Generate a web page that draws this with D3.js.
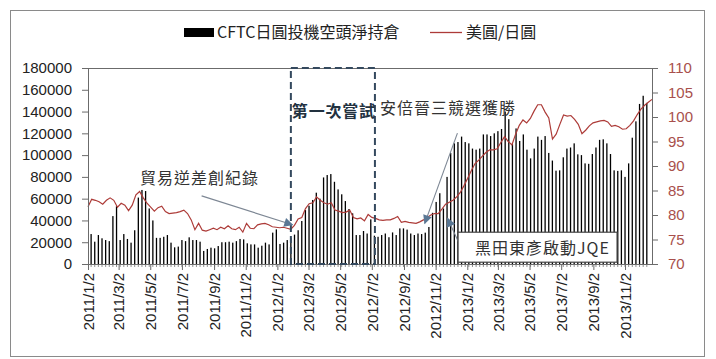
<!DOCTYPE html>
<html><head><meta charset="utf-8">
<script src="https://cdn.jsdelivr.net/npm/d3@7/dist/d3.min.js"></script>
<style>body{margin:0;background:#fff} svg{display:block}</style>
</head><body><svg id="c" width="716" height="359"></svg>
<script>
// ---------- data ----------
const firstWeek = "2011/1/8";
const lastWeek = "2013/12/15";
const axisStart = "2011/1/2";
const axisEnd = "2013/12/24";
const tickLabels = ["2011/1/2","2011/3/2","2011/5/2","2011/7/2","2011/9/2","2011/11/2",
  "2012/1/2","2012/3/2","2012/5/2","2012/7/2","2012/9/2","2012/11/2",
  "2013/1/2","2013/3/2","2013/5/2","2013/7/2","2013/9/2","2013/11/2"];
const leftTicks = [0,20000,40000,60000,80000,100000,120000,140000,160000,180000];
const rightTicks = [70,75,80,85,90,95,100,105,110];
const cftcNetShort = [
 27500,20500,26600,23600,22000,21000,44000,53000,22000,27500,
 23000,19600,31000,61000,68000,67000,51000,40000,24000,24000,
 25000,26600,19600,15300,16000,22000,21000,24500,22000,22000,
 20500,12000,13800,15000,14400,16500,20000,20000,20500,19600,
 21000,23000,22600,19000,18000,18000,15000,16800,19600,18000,
 28800,31800,18400,19600,22000,24000,27000,31000,39500,49600,
 53500,58800,65500,60000,79500,81700,82600,75500,68500,64000,
 57800,50500,46500,26600,26600,30300,28000,41000,26000,25000,
 26600,28000,24600,29000,26600,32700,32700,31600,28000,26600,
 28000,27500,28800,34000,47000,57000,65000,51000,80000,102000,
 110800,112000,117000,112000,110800,106000,105000,106000,119000,119000,
 117500,120000,122000,124000,140000,133000,110000,124500,113000,119000,
 105000,97000,106000,117000,114000,117500,102000,95000,85700,86000,
 98000,106000,107000,110800,100700,100000,92400,92000,101000,107000,
 114000,114500,110800,101000,86000,85500,86000,80000,92400,116000,
 131000,147000,154500,148000];
const usdJpy = [
 81.7,83.2,83.0,82.7,82.2,83.0,83.5,83.0,81.6,82.4,
 82.0,80.9,82.0,84.1,84.8,83.5,82.4,81.6,80.8,81.5,
 81.8,80.7,80.3,80.4,80.5,80.7,81.0,80.3,79.0,77.0,
 78.3,76.9,76.7,77.0,77.3,77.0,77.5,77.2,77.8,77.2,
 77.0,77.5,76.5,78.3,77.3,77.2,78.0,78.2,78.3,78.0,
 77.6,77.5,77.4,77.5,77.3,77.1,77.9,79.2,79.5,81.3,
 82.3,82.5,83.7,83.0,82.5,82.2,82.5,81.0,80.8,80.5,
 80.6,81.0,79.5,79.2,79.4,78.8,80.1,79.5,79.3,79.0,
 78.9,79.0,79.0,79.3,79.7,78.5,78.7,78.5,78.4,78.3,
 78.6,79.0,79.5,80.0,80.3,80.3,81.2,82.2,82.6,83.0,
 83.7,84.6,86.0,87.5,89.1,90.5,91.2,92.0,92.8,93.3,
 93.3,93.5,94.8,96.0,95.0,94.3,96.5,98.3,99.4,98.8,
 99.7,101.2,102.5,102.5,101.0,99.8,95.5,96.5,98.5,100.4,
 100.2,100.3,99.5,98.5,96.6,97.3,98.2,98.8,99.0,99.2,
 99.3,99.0,98.1,98.3,98.0,97.5,97.6,98.3,99.2,100.5,
 101.6,102.4,103.0,103.6];
const seriesNames = ["CFTC日圓投機空頭淨持倉", "美圓/日圓"];
// annotations: [date, USD/JPY level]
const trialBox = {from: "2012/1/28", to: "2012/7/8", label: "第一次嘗試"};
const notes = [
  {text: "貿易逆差創紀錄", at: ["2011/4/12", 86.3], from: ["2011/8/9", 83.9], tip: ["2012/1/31", 78.0]},
  {text: "安倍晉三競選獲勝", at: ["2012/7/18", 100.6], from: ["2012/12/14", 96.7], tip: ["2012/10/12", 78.3]},
  {text: "黑田東彥啟動JQE", at: ["2013/1/17", 72.0], from: ["2012/12/17", 74.3], tip: ["2012/11/25", 79.3], boxed: true}
];

// ---------- layout ----------
const L = 88, R = 652, T = 68, B = 264;
const parse = d3.timeParse("%Y/%m/%d");
const svg = d3.select("#c");
const numFont = "'Liberation Sans', Arial, sans-serif";
const cjkFont = "'Noto Sans CJK TC', 'Noto Sans CJK SC', sans-serif";
const axisCol = "#6b6b6b", lineCol = "#ad3b38", rightTxt = "#a8504c";

svg.append("rect").attr("x",10.5).attr("y",10.5).attr("width",694).attr("height",346)
  .attr("fill","#fff").attr("stroke","#8a8a8a");

const weeks = d3.timeDay.range(parse(firstWeek), d3.timeDay.offset(parse(lastWeek),1), 7);
const x = d3.scaleTime().domain([parse(axisStart), parse(axisEnd)]).range([L, R]);
const xl = d3.scaleLinear().domain([0, usdJpy.length - 1]).range([L, R]);
const yL = d3.scaleLinear().domain([0, 180000]).range([B, T]);
const yR = d3.scaleLinear().domain([70, 110]).range([B, T]);

// top frame line
svg.append("line").attr("x1",L).attr("x2",R).attr("y1",T+0.5).attr("y2",T+0.5).attr("stroke",axisCol);

// bars
svg.append("g").selectAll("rect").data(cftcNetShort).join("rect")
  .attr("x",(d,i)=>x(weeks[i]) - 0.65).attr("width",1.3)
  .attr("y",d=>yL(d)).attr("height",d=>B - yL(d)).attr("fill","#000");

// line
svg.append("path").datum(usdJpy)
  .attr("d", d3.line().x((d,i)=>xl(i)).y(d=>yR(d)))
  .attr("fill","none").attr("stroke",lineCol).attr("stroke-width",1.2);

// axes
function styleAxis(g, col, txtCol){
  g.select(".domain").attr("stroke",col);
  g.selectAll(".tick line").attr("stroke",col);
  g.selectAll("text").attr("fill",txtCol).style("font-family",numFont).style("font-size","15px");
}
const gL = svg.append("g").attr("transform",`translate(${L},0)`)
  .call(d3.axisLeft(yL).tickValues(leftTicks).tickSize(6).tickSizeOuter(0).tickPadding(10).tickFormat(d=>String(d)));
styleAxis(gL, axisCol, "#222");
const gR = svg.append("g").attr("transform",`translate(${R},0)`)
  .call(d3.axisRight(yR).tickValues(rightTicks).tickSize(6).tickSizeOuter(0).tickPadding(10));
styleAxis(gR, axisCol, rightTxt);

// minor weekly ticks
svg.append("g").selectAll("line").data(weeks).join("line")
  .attr("x1",d=>x(d)).attr("x2",d=>x(d)).attr("y1",B).attr("y2",B+3)
  .attr("stroke","#777").attr("stroke-width",0.8);

const gX = svg.append("g").attr("transform",`translate(0,${B})`)
  .call(d3.axisBottom(x).tickValues(tickLabels.map(parse)).tickSize(6).tickSizeOuter(0)
    .tickFormat((d,i)=>tickLabels[i]));
styleAxis(gX, axisCol, "#222");
gX.selectAll("text").attr("transform","rotate(-90)").attr("text-anchor","end")
  .attr("x",-9).attr("y",0).attr("dy","0.35em");

// dashed box "first attempt"
const bx0 = x(parse(trialBox.from)), bx1 = x(parse(trialBox.to));
svg.append("rect").attr("x",bx0).attr("y",T).attr("width",bx1-bx0).attr("height",B-T)
  .attr("fill","none").attr("stroke","#34495e").attr("stroke-width",2).attr("stroke-dasharray","7,4");
svg.append("text").attr("x",bx0+1).attr("y",117).text(trialBox.label)
  .style("font-family",cjkFont).style("font-weight","bold").style("font-size","16px")
  .style("letter-spacing","0.8px").attr("fill","#22313f");

// arrows
const defs = svg.append("defs");
defs.append("marker").attr("id","ah").attr("viewBox","0 0 10 10").attr("refX",9).attr("refY",5)
  .attr("markerWidth",10).attr("markerHeight",9).attr("markerUnits","userSpaceOnUse").attr("orient","auto")
  .append("path").attr("d","M0,0L10,5L0,10z").attr("fill","#5a7794");
const P = a => [x(parse(a[0])), yR(a[1])];
notes.forEach(n=>{
  const f = P(n.from), t = P(n.tip), a = P(n.at);
  svg.append("line").attr("x1",f[0]).attr("y1",f[1]).attr("x2",t[0]).attr("y2",t[1])
    .attr("stroke","#7d8794").attr("stroke-width",1.1).attr("marker-end","url(#ah)");
  if (n.boxed) {
    svg.append("rect").attr("x",a[0]-17).attr("y",a[1]-22).attr("width",159).attr("height",30)
      .attr("fill","#fff").attr("stroke","#444").attr("stroke-width",1.2);
  }
  svg.append("text").attr("x",a[0]).attr("y",a[1]).text(n.text)
    .style("font-family",cjkFont).style("font-size","16px").style("letter-spacing","1px")
    .attr("fill","#333");
});

// legend
const lg = svg.append("g");
lg.append("rect").attr("x",184).attr("y",28).attr("width",30).attr("height",9).attr("fill","#000");
lg.append("text").attr("x",217).attr("y",38).text(seriesNames[0])
  .style("font-family",cjkFont).style("font-size","16px").attr("fill","#222");
lg.append("line").attr("x1",430).attr("x2",462).attr("y1",32.5).attr("y2",32.5)
  .attr("stroke",lineCol).attr("stroke-width",1.3);
lg.append("text").attr("x",466).attr("y",38).text(seriesNames[1])
  .style("font-family",cjkFont).style("font-size","16px").attr("fill","#222");
</script></body></html>
